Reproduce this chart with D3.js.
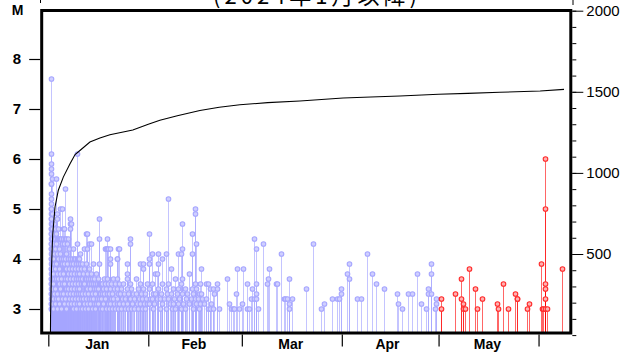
<!DOCTYPE html>
<html><head><meta charset="utf-8">
<script src="https://cdn.jsdelivr.net/npm/d3@7"></script>
<style>html,body{margin:0;padding:0;background:#fff;}svg{display:block;}</style>
</head><body>
<svg id="c" width="632" height="352"></svg>
<script>
const titleText = "(2024年1月以降)";
const monthStarts = ["2024-01-01","2024-02-01","2024-03-01","2024-04-01","2024-05-01","2024-06-01"];
const monthLabels = ["Jan","Feb","Mar","Apr","May"];
const monthMids = ["2024-01-16","2024-02-15","2024-03-16","2024-04-15","2024-05-16"];
const magTicks = [3,4,5,6,7,8];
const countTicks = [500,1000,1500,2000];
const redFromDay = 121;

// [day since 2024-01-01 00:00 (JST), [magnitudes]]
const quakesJan = [
[0.68,[7.6,6.1,5.9,5.8,5.7,5.5,5.5,5.3,5.2,5.1,5.0,4.9,4.8,4.7,4.6,4.5,4.4,4.3,4.2,4.1,4.0,3.9,3.8,3.7,3.6,3.5,3.4,3.3,3.2,3.1,3.0]],
[0.84,[5.0,4.8,4.6,4.5,4.3,4.2,4.0,3.8,3.6,3.5,3.3,3.1,3.0]],
[1.05,[4.9,4.7,4.4,4.1,3.9,3.7,3.4,3.2,3.0]],
[1.24,[5.6,4.6,4.4,4.2,4.0,3.8,3.6,3.3,3.1]],
[1.46,[4.5,4.3,4.0,3.7,3.5,3.2,3.0]],
[1.77,[4.7,4.4,4.1,3.9,3.6,3.3]],
[2.08,[4.6,4.4,4.2,3.8,3.4,3.1]],
[2.39,[5.6,4.5,4.3,3.9,3.6,3.2]],
[2.79,[4.9,4.8,4.4,4.1,3.7,3.3,3.0]],
[3.10,[4.6,4.4,4.0,3.6,3.2]],
[3.41,[4.4,4.2,3.8,3.5,3.1]],
[3.63,[5.0,4.4,4.1,3.7,3.4]],
[3.94,[4.4,4.0,3.6,3.3,3.0]],
[4.25,[5.0,4.3,3.9,3.5,3.2]],
[4.65,[4.6,4.4,4.0,3.7,3.3]],
[4.96,[4.6,4.3,3.9,3.5,3.1]],
[5.27,[5.4,4.4,4.0,3.6,3.2]],
[5.58,[4.4,4.1,3.8,3.4,3.0]],
[5.89,[4.3,3.9,3.6,3.3]],
[6.20,[4.4,4.0,3.7,3.4,3.1]],
[6.51,[4.2,3.8,3.5,3.2]],
[6.73,[4.8,4.7,4.6,4.0,3.6,3.3]],
[7.04,[4.7,3.9,3.7,3.4,3.1]],
[7.35,[4.0,3.8,3.5,3.2]],
[7.66,[4.2,3.9,3.6,3.3,3.0]],
[7.97,[4.0,3.7,3.4,3.1]],
[8.19,[4.0,3.8,3.5,3.2]],
[8.50,[3.9,3.6,3.3,3.0]],
[8.81,[6.1,4.3,4.0,3.7,3.4,3.1]],
[9.12,[3.9,3.6,3.3]],
[9.30,[4.0,3.8,3.5,3.2]],
[9.61,[4.0,3.7,3.4,3.1]],
[9.83,[4.1,3.9,3.6,3.3,3.0]],
[10.14,[3.8,3.5,3.2]],
[10.45,[3.9,3.6,3.3,3.0]],
[10.76,[3.7,3.5,3.2]],
[11.16,[4.2,3.8,3.5,3.1]],
[11.38,[3.6,3.3,3.0]],
[11.69,[4.5,3.9,3.6,3.2]],
[12.09,[4.5,4.2,3.7,3.4,3.1]],
[12.40,[3.6,3.3,3.0]],
[12.71,[4.3,3.8,3.5,3.2]],
[12.93,[3.6,3.4,3.1]],
[13.24,[4.3,3.7,3.5,3.2]],
[13.55,[3.6,3.3,3.0]],
[13.86,[3.9,3.5,3.2]],
[14.17,[3.6,3.4,3.1]],
[14.48,[3.5,3.3,3.0]],
[14.79,[3.7,3.4,3.1]],
[15.10,[3.5,3.2]],
[15.50,[3.6,3.4,3.1]],
[15.72,[4.8,4.4,3.9,3.5,3.2]],
[16.03,[3.5,3.3,3.0]],
[16.25,[3.5,3.2]],
[16.56,[3.5,3.3,3.0]],
[16.96,[3.4,3.1]],
[17.27,[3.6,3.3]],
[17.58,[4.2,3.5,3.2]],
[17.89,[4.2,3.4,3.0]],
[18.29,[4.4,4.2,3.6,3.3]],
[18.60,[4.2,3.5,3.1]],
[18.91,[3.3,3.0]],
[19.13,[4.2,4.0,3.9,3.4,3.1]],
[19.44,[3.5,3.2]],
[19.75,[3.3,3.0]],
[20.06,[3.6,3.2]],
[20.37,[3.4,3.1]],
[20.68,[3.5,3.0]],
[21.21,[4.0,3.4,3.1]],
[21.40,[4.0,3.6,3.2]],
[21.71,[4.2,3.3,3.0]],
[22.02,[4.2,3.5,3.1]],
[22.33,[3.3]],
[22.64,[3.4,3.0]],
[22.95,[3.2]],
[23.26,[3.5,3.1]],
[23.57,[3.3]],
[23.88,[3.2,3.0]],
[24.31,[3.7,3.4,3.1]],
[24.50,[3.9,3.6]],
[24.81,[3.3,3.0]],
[25.12,[3.2]],
[25.33,[4.4,4.3,3.5,3.2]],
[25.64,[3.4,3.0]],
[25.95,[3.1]],
[26.26,[3.3]],
[26.57,[3.2,3.0]],
[27.10,[3.6,3.3]],
[27.50,[3.1]],
[27.81,[3.4,3.0]],
[28.12,[3.2]],
[28.43,[3.9,3.5,3.1]],
[28.74,[3.3]],
[29.05,[3.2,3.0]],
[29.46,[3.9,3.8,3.4]],
[29.77,[3.1]],
[30.08,[3.3,3.0]],
[30.39,[3.2]],
[30.70,[3.5,3.1]]
];
const quakesFeb = [
[31.33,[4.5,4.0,3.9,3.4,3.1]],
[31.63,[3.2]],
[32.06,[4.1,3.5,3.2]],
[32.47,[3.3,3.0]],
[32.78,[3.1]],
[33.18,[3.7,3.3]],
[33.60,[3.7,3.2]],
[34.10,[4.1,3.9,3.4]],
[34.60,[3.2,3.0]],
[34.90,[3.3]],
[35.40,[4.0,3.5,3.1]],
[35.80,[3.2]],
[36.40,[4.1,3.4,3.0]],
[36.70,[3.3]],
[37.20,[5.2,3.5,3.2]],
[37.60,[3.1]],
[37.90,[3.8,3.3]],
[38.40,[3.0]],
[38.70,[3.4,3.1]],
[39.00,[3.2]],
[39.40,[3.6,3.0]],
[39.80,[3.3]],
[40.20,[4.1,3.4,3.1]],
[40.50,[3.2]],
[41.10,[4.1,3.5,3.0]],
[41.50,[4.7,4.2,3.6,3.3]],
[41.90,[3.1]],
[42.40,[3.4,3.0]],
[42.70,[3.2]],
[43.00,[3.3]],
[43.70,[3.7,3.1]],
[44.10,[3.2]],
[44.50,[4.5,4.1,3.4]],
[44.90,[3.3,3.0]],
[45.50,[5.0,4.9,3.5,3.2]],
[45.80,[4.3,3.4,3.1]],
[46.30,[3.2]],
[46.70,[3.3,3.0]],
[47.00,[3.5,3.1]],
[47.30,[3.8,3.3]],
[47.80,[3.2]],
[48.30,[3.1]],
[49.00,[3.5,3.2]],
[49.40,[3.5,3.0]],
[50.05,[3.4,3.0]],
[50.40,[3.1]],
[51.05,[3.4,3.0]],
[51.50,[3.3]],
[52.30,[3.5,3.4]],
[52.90,[3.0]],
[55.40,[3.6]],
[56.00,[3.1]],
[56.60,[3.0]],
[57.30,[3.0]],
[57.70,[3.0]],
[58.30,[3.3]],
[58.50,[3.8]],
[59.20,[3.0]],
[59.95,[3.1]]
];
const quakesMar = [
[60.50,[3.8]],
[61.50,[3.5]],
[61.60,[3.0]],
[62.20,[3.0]],
[62.85,[3.2]],
[63.10,[3.4]],
[63.70,[4.4,3.2]],
[64.40,[4.2,3.5,3.3,3.2]],
[64.90,[3.0]],
[66.60,[4.3]],
[67.80,[3.5]],
[68.10,[3.6]],
[68.40,[3.8]],
[70.50,[3.5]],
[70.90,[3.5]],
[72.20,[4.1]],
[73.20,[3.2]],
[73.50,[3.2]],
[74.10,[3.2]],
[74.70,[3.6,3.1,3.0]],
[75.60,[3.2]],
[79.90,[3.4]],
[82.00,[4.3]],
[84.50,[3.0]],
[85.50,[3.1]],
[87.90,[3.2]],
[89.60,[3.2]],
[90.20,[3.2]],
[90.65,[3.4,3.3]]
];
const quakesApr = [
[92.50,[3.7]],
[93.10,[3.9]],
[93.30,[3.6]],
[95.60,[3.2]],
[96.90,[3.2]],
[98.80,[4.1]],
[100.50,[3.7]],
[101.50,[3.5]],
[104.20,[3.4]],
[108.10,[3.3]],
[108.50,[3.1]],
[109.80,[3.0]],
[111.40,[3.3]],
[112.70,[3.3]],
[114.30,[3.7]],
[115.60,[3.1]],
[117.00,[3.0]],
[117.80,[3.4,3.3]],
[118.60,[3.9,3.7,3.3]],
[119.90,[3.0]],
[120.30,[3.2,3.1]]
];
const quakesMay = [
[121.85,[3.2,3.0]],
[126.00,[3.3]],
[128.05,[3.6,3.2]],
[128.50,[3.1,3.0]],
[129.30,[3.0]],
[130.50,[3.8]],
[132.20,[3.4]],
[133.00,[3.0]],
[134.40,[3.2]],
[139.00,[3.1]],
[139.40,[3.0]],
[140.90,[3.5]],
[142.50,[3.0]],
[144.80,[3.3]],
[145.20,[3.2,3.2]],
[148.30,[3.0]],
[149.05,[3.1]],
[152.70,[3.9]],
[153.00,[3.0]],
[153.50,[3.0]],
[154.10,[6.0,5.0,3.5,3.4,3.2,3.0]],
[154.50,[3.0]],
[159.20,[3.8]]
];
// cumulative number of events [day, count]
const cumDays =   [0.66,0.70,0.84,1.00,1.36,2.08,3.10,4.65,6.73,8.30,9.80,12.90,16.00,19.10,26.20,31.00,34.60,40.00,47.00,53.00,59.40,68.00,78.00,91.40,100.0,109.0,121.0,130.0,140.0,152.5,159.9];
const cumCounts = [0,   120, 260, 420, 620, 790, 893, 974, 1056,1113,1138,1190, 1215, 1235, 1265, 1300, 1325, 1352, 1385, 1405, 1420, 1433, 1443, 1462, 1468, 1474, 1485, 1490, 1497, 1505, 1515];

const svg = d3.select("#c");
const L = 41.7, R = 570.8, T = 10.5, B = 333;
const t0 = Date.UTC(2024,0,1);
const toDate = d => new Date(t0 + d*864e5);
const x = d3.scaleUtc().domain([toDate(-2.05), toDate(162.0)]).range([L, R]);
const y = d3.scaleLinear().domain([2.5, 9]).range([334, 9]);
const yc = d3.scaleLinear().domain([0, 2000]).range([335.1, 10.7]);

// title (cut off at the top edge, as in the reference)
svg.append("text").attr("x", 317).attr("y", 3.5).attr("text-anchor","middle")
  .attr("font-family","'Noto Sans CJK JP', sans-serif").attr("font-size", 22)
  .attr("letter-spacing", 4).text(titleText);
svg.append("line").attr("x1",40.5).attr("x2",40.5).attr("y1",0).attr("y2",3).attr("stroke","#000");
svg.append("line").attr("x1",573).attr("x2",573).attr("y1",0).attr("y2",5).attr("stroke","#000");

const defs = svg.append("defs");
defs.append("clipPath").attr("id","clip").append("rect").attr("x",L).attr("y",T).attr("width",R-L).attr("height",B-T);
const g = svg.append("g").attr("clip-path","url(#clip)");

const flatten = arr => arr.flatMap(([d, ms]) => ms.map(m => ({d, m})));
const events = [...flatten(quakesJan), ...flatten(quakesFeb), ...flatten(quakesMar), ...flatten(quakesApr), ...flatten(quakesMay)];
const isRed = e => e.d >= redFromDay;
const px = e => Math.round(x(toDate(e.d))) + 0.5;

g.selectAll("line.stem").data(events).join("line").attr("class","stem")
  .attr("x1", px).attr("x2", px)
  .attr("y1", B).attr("y2", e => y(e.m))
  .attr("stroke", e => isRed(e) ? "rgba(255,0,0,0.6)" : "rgba(165,165,255,0.65)")
  .attr("stroke-width", 1);
g.selectAll("circle.ev").data(events).join("circle").attr("class","ev")
  .attr("cx", px).attr("cy", e => y(e.m)).attr("r", 2.3)
  .attr("fill", e => isRed(e) ? "#ffb0b0" : "#cfcfff")
  .attr("stroke", e => isRed(e) ? "#ff2a2a" : "#a6a6ff").attr("stroke-width", 1.1);

const cum = cumDays.map((d,i) => [d, cumCounts[i]]);
g.append("path").datum(cum)
  .attr("d", d3.line().x(p => x(toDate(p[0]))).y(p => yc(p[1])).curve(d3.curveLinear))
  .attr("fill","none").attr("stroke","#000").attr("stroke-width",1.1);

// frame
svg.append("rect").attr("x",L).attr("y",T).attr("width",R-L).attr("height",B-T)
  .attr("fill","none").attr("stroke","#000").attr("stroke-width",3);

const axisFont = "'Liberation Sans', Arial, sans-serif";
// left axis
const ly = svg.append("g").attr("transform",`translate(${L-1.5},0)`)
  .call(d3.axisLeft(y).tickValues(magTicks).tickSize(11).tickPadding(8).tickFormat(d3.format("d")));
ly.select(".domain").remove();
ly.selectAll("line").attr("stroke","#000").attr("stroke-width",1.2);
ly.selectAll("text").attr("font-family",axisFont).attr("font-size",15).attr("font-weight","bold").attr("fill","#000");
svg.append("text").attr("x",17.5).attr("y",15).attr("text-anchor","middle")
  .attr("font-family",axisFont).attr("font-size",14).attr("font-weight","bold").text("M");

// right axis
const ry = svg.append("g").attr("transform",`translate(${R+1.5},0)`)
  .call(d3.axisRight(yc).ticks(20).tickSize(4).tickFormat(""));
ry.select(".domain").remove();
ry.selectAll("line").attr("stroke","#000");
const ry2 = svg.append("g").attr("transform",`translate(${R+1.5},0)`)
  .call(d3.axisRight(yc).tickValues(countTicks).tickSize(11).tickPadding(3).tickFormat(d3.format("d")));
ry2.select(".domain").remove();
ry2.selectAll("line").attr("stroke","#000");
ry2.selectAll("text").attr("font-family",axisFont).attr("font-size",15).attr("fill","#000");

// bottom axis
const bx = svg.append("g").attr("transform",`translate(0,${B+1.5})`)
  .call(d3.axisBottom(x).tickValues(monthStarts.map(s => new Date(s+"T00:00:00Z"))).tickSize(12).tickFormat(""));
bx.select(".domain").remove();
bx.selectAll("line").attr("stroke","#000").attr("stroke-width",1.2);
const bl = svg.append("g").attr("transform",`translate(0,${B+1.5})`)
  .call(d3.axisBottom(x).tickValues(monthMids.map(s => new Date(s+"T00:00:00Z"))).tickSize(0).tickPadding(5)
    .tickFormat((d,i) => monthLabels[i]));
bl.select(".domain").remove();
bl.selectAll("text").attr("font-family",axisFont).attr("font-size",14).attr("font-weight","bold").attr("fill","#000");
</script>
</body></html>
